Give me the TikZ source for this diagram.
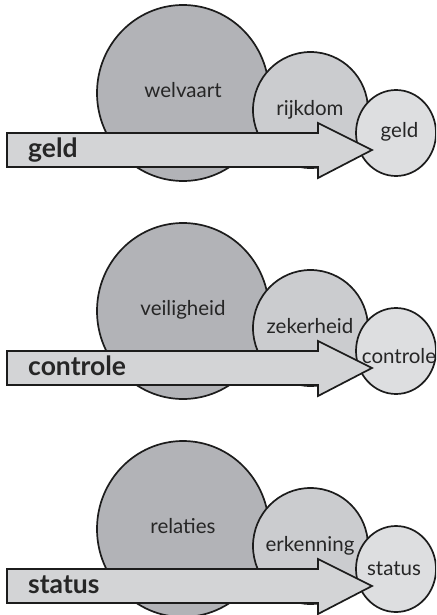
\documentclass[tikz,border=0pt]{standalone}
\usepackage{fontspec}
\setmainfont{Lato}
\usetikzlibrary{shapes.geometric}
\definecolor{cbig}{RGB}{178,179,183}
\definecolor{cmid}{RGB}{203,204,207}
\definecolor{csmall}{RGB}{221,222,224}
\definecolor{carrow}{RGB}{211,212,214}
\definecolor{ctext}{RGB}{38,38,38}
\definecolor{cline}{RGB}{28,28,28}
\tikzset{
  circbase/.style={ellipse, draw=cline, line width=1.7pt, inner sep=0pt},
  bigc/.style={circbase, fill=cbig, minimum width=172pt, minimum height=176pt},
  midc/.style={circbase, fill=cmid, minimum width=115pt, minimum height=116pt},
  smallc/.style={circbase, fill=csmall, minimum width=80pt, minimum height=86pt},
  arrowbody/.style={draw=cline, fill=carrow, line width=1.7pt, line join=miter},
  intext/.style={anchor=base, text=ctext, font=\fontsize{20.5}{22}\selectfont, inner sep=0pt},
  arrtext/.style={anchor=base west, text=ctext, font=\fontsize{26.5}{28}\selectfont\bfseries, inner sep=0pt}
}
\newcommand\mypanel[8]{%
  \begin{scope}[yshift=-#2pt]
    \node[bigc] (#1big) at (183,93) {};
    \node[midc] (#1mid) at (310.5,110) {};
    \node[smallc] (#1small) at (396,133) {};
    \coordinate (#1tip) at (372,150);
    \draw[arrowbody] (7,133) -- (318,133) -- (318,123) -- (#1tip) -- (318,178) -- (318,167) -- (7,167) -- cycle;
    \node[intext] (#1bigt) at (183,97.5) {#3};
    \node[intext] (#1midt) at (310,115) {#4};
    \node[intext] (#1smallt) at (#7,#6) {#5};
    \node[arrtext] (#1arrt) at (28,157) {#8};
  \end{scope}}
\begin{document}
\begin{tikzpicture}[x=1pt,y=-1pt]
  \useasboundingbox (0,0) rectangle (436,615);
  \clip (0,0) rectangle (436,615);
  \fill[white] (0,0) rectangle (436,615);
  \mypanel{a}{0}{welvaart}{rijkdom}{geld}{137}{399.5}{geld}
  \mypanel{b}{218}{veiligheid}{zekerheid}{controle}{145}{399}{controle}
  \mypanel{c}{436}{relaties}{erkenning}{status}{139}{394}{status}
\end{tikzpicture}
\end{document}
